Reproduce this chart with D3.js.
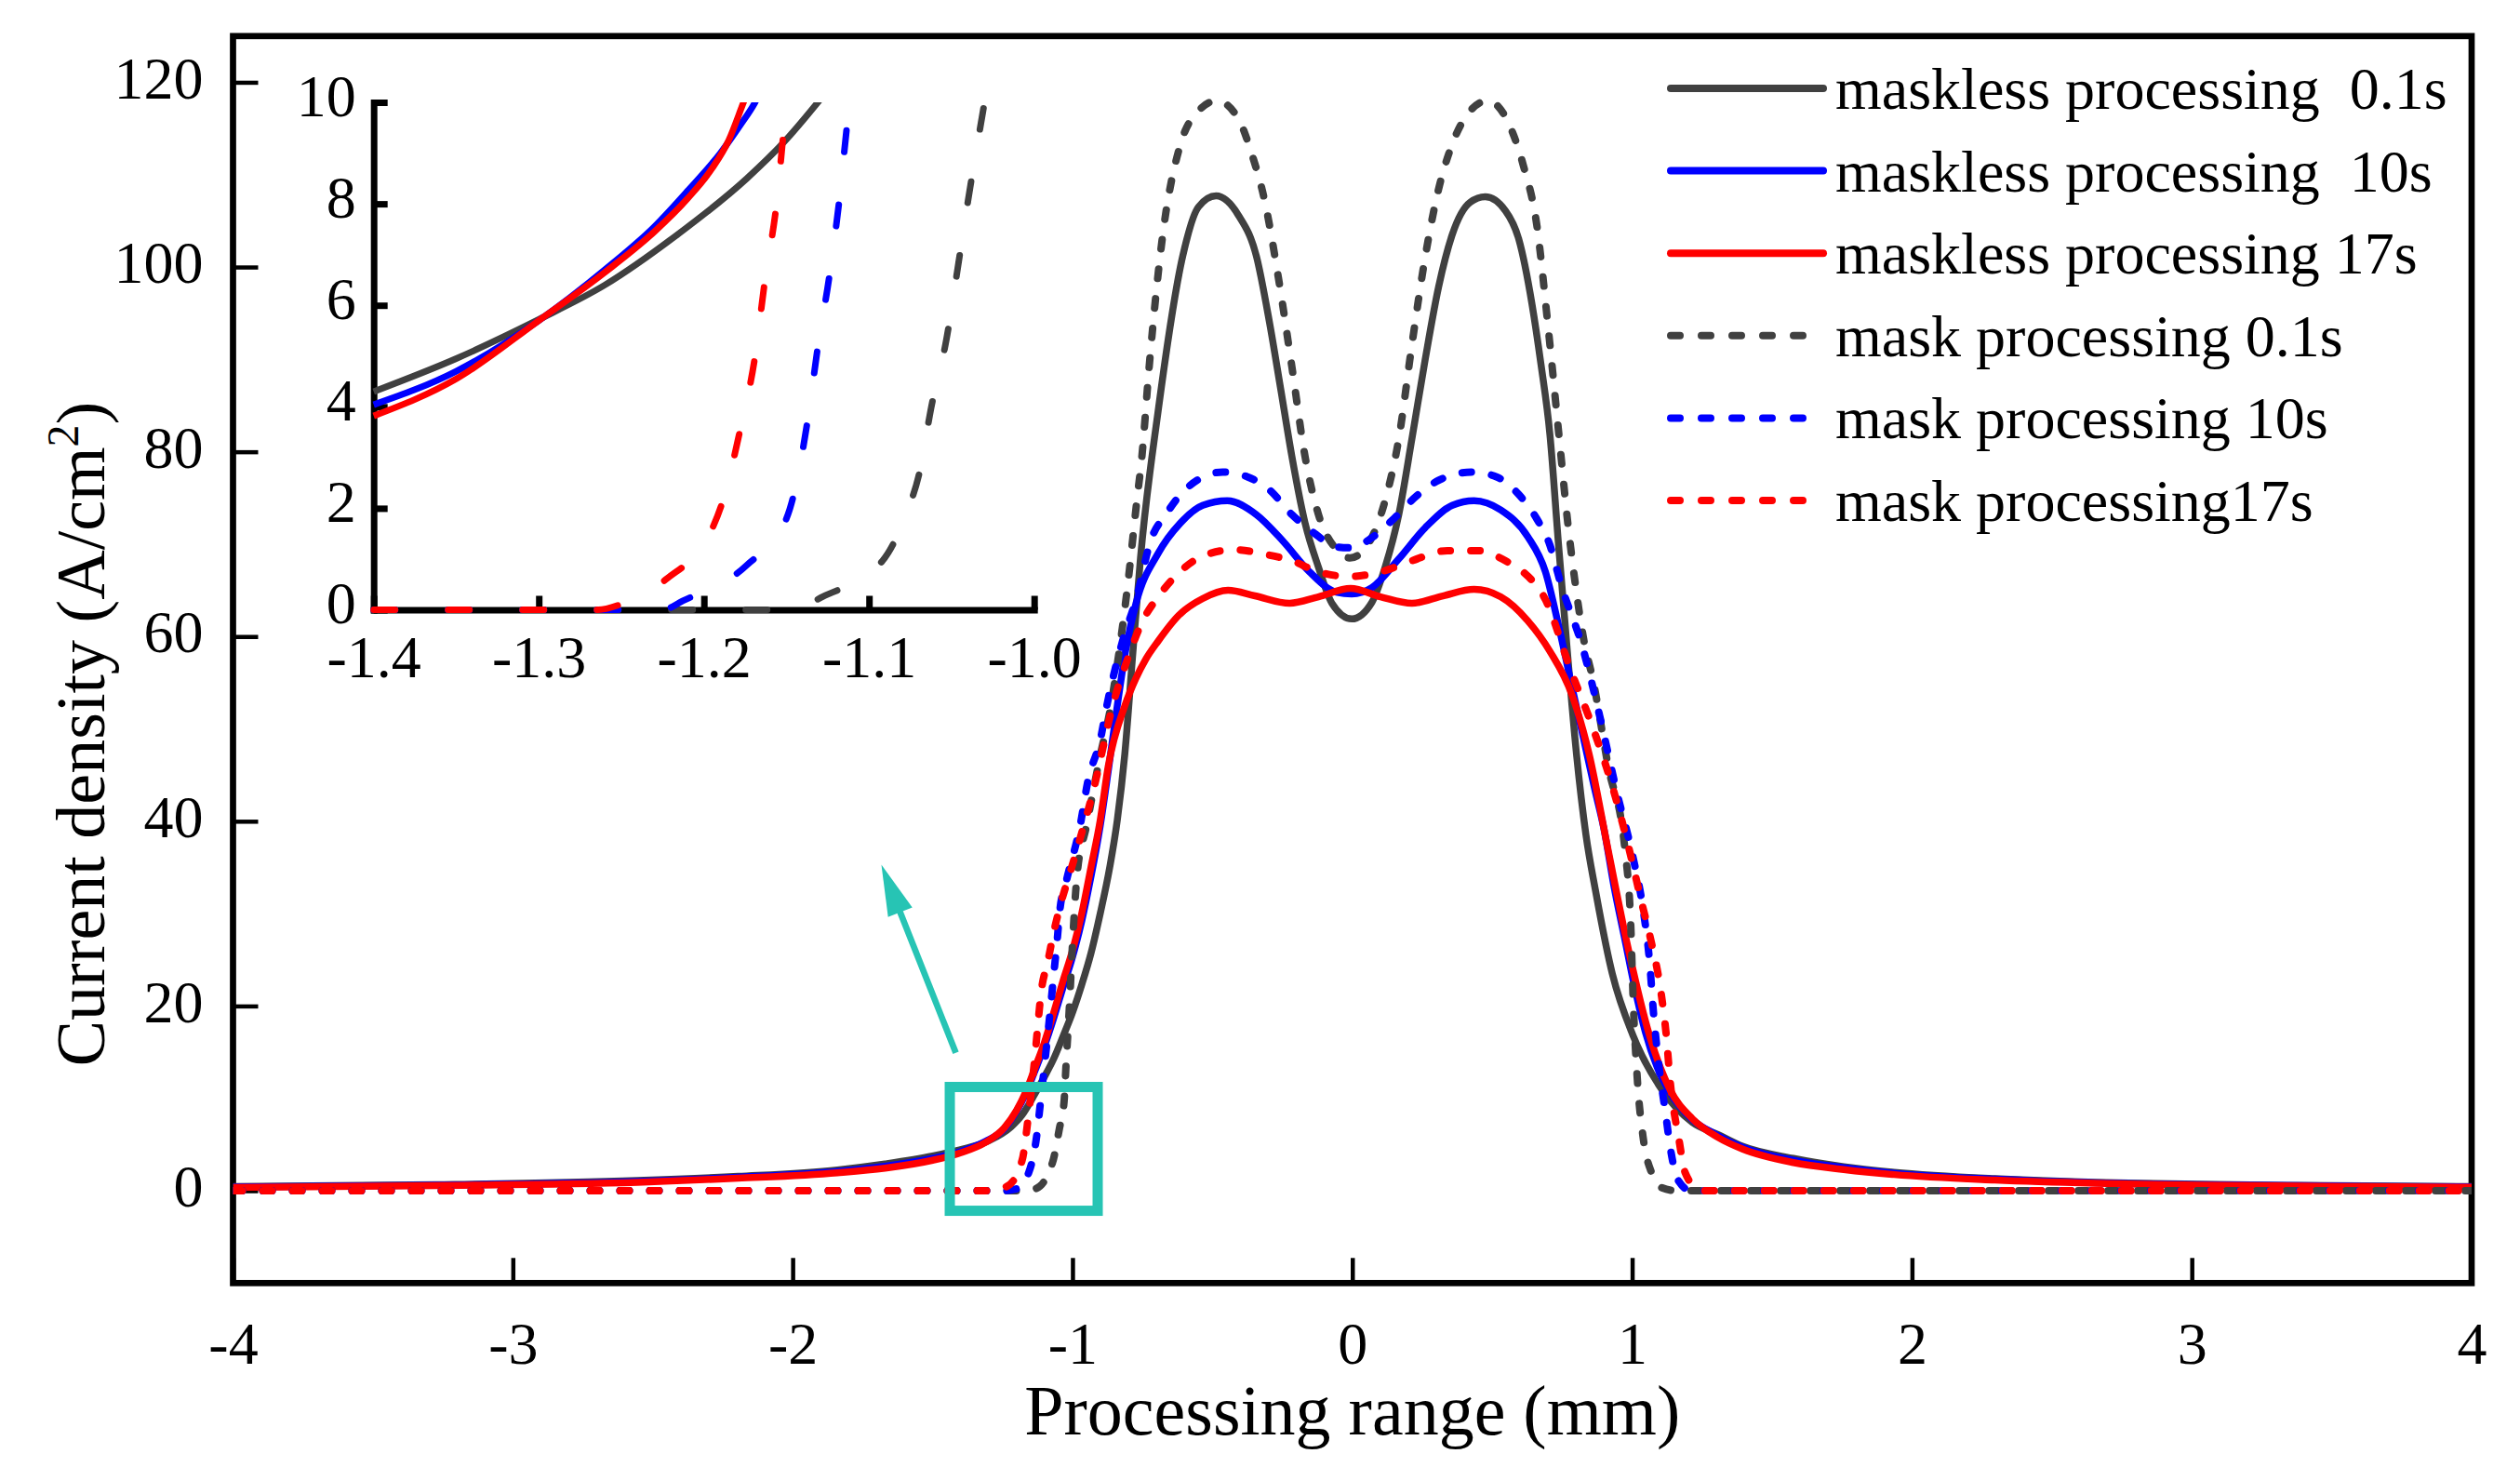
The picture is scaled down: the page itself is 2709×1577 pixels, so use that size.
<!DOCTYPE html>
<html>
<head>
<meta charset="utf-8">
<script src="https://cdn.jsdelivr.net/npm/d3@7"></script>
<style>
  body { margin: 0; background: #fff; }
  svg text { font-family: 'Liberation Serif', 'Times New Roman', serif; fill: #000; }
</style>
</head>
<body>
<svg id="chart"></svg>
<script>
// values: [processing range (mm), current density (A/cm2)]
const masklessShort = [[-4,0.45],[-3.275,0.65],[-2.555,1.1],[-2.195,1.55],[-1.84,2.25],[-1.67,2.9],[-1.5,3.75],[-1.4,4.45],[-1.3,5.4],[-1.22,6.9],[-1.18,8.2],[-1.134,10.5],[-1.101,12.3],[-1.067,14.3],[-1.034,16.7],[-1.0,19.3],[-0.967,22.3],[-0.934,25.7],[-0.901,30.0],[-0.867,35.0],[-0.840,40.1],[-0.813,47.3],[-0.785,58],[-0.757,68.5],[-0.694,84.4],[-0.606,101.2],[-0.550,106.5],[-0.487,107.7],[-0.407,105.6],[-0.343,101.2],[-0.296,94.0],[-0.256,86.8],[-0.216,79.5],[-0.169,72.3],[-0.121,67.5],[-0.073,63.6],[-0.002,61.9],[0.070,63.7],[0.117,67.5],[0.166,73.2],[0.213,81.4],[0.261,90.1],[0.308,97.8],[0.357,103.5],[0.421,107.0],[0.475,107.6],[0.547,106.1],[0.595,103.0],[0.642,96.0],[0.674,89.5],[0.706,81.9],[0.737,69.9],[0.770,57.8],[0.801,47.3],[0.835,38.5],[0.869,32.5],[0.929,23.5],[1.003,16.8],[1.107,10.9],[1.215,7.4],[1.305,6.1],[1.395,4.8],[1.576,3.5],[1.756,2.6],[1.936,2.0],[2.296,1.3],[2.657,0.9],[3.019,0.7],[3.377,0.58],[3.98,0.45],[4,0.45]]
const masklessMid = [[-4,0.4],[-3.275,0.6],[-2.555,1.0],[-2.195,1.45],[-1.84,2.1],[-1.67,2.65],[-1.5,3.5],[-1.4,4.25],[-1.31,5.35],[-1.244,6.7],[-1.2,8.6],[-1.167,10.5],[-1.134,13.0],[-1.101,15.6],[-1.067,18.7],[-1.034,22.0],[-1.0,25.3],[-0.967,29.2],[-0.934,34.0],[-0.901,39.5],[-0.872,45.5],[-0.84,52.5],[-0.81,58.5],[-0.773,63.6],[-0.694,69.0],[-0.614,72.3],[-0.535,74.2],[-0.447,74.7],[-0.343,73.2],[-0.247,70.3],[-0.153,67.0],[-0.057,64.8],[-0.002,64.6],[0.070,65.3],[0.166,68.4],[0.261,71.8],[0.357,74.2],[0.435,74.7],[0.530,73.7],[0.627,70.8],[0.690,67.0],[0.737,61.2],[0.786,54.4],[0.826,49.0],[0.866,43.5],[0.899,39.2],[0.936,32.8],[0.974,27.2],[1.009,22.0],[1.047,17.2],[1.089,13.4],[1.136,10.6],[1.215,7.7],[1.305,6.0],[1.395,4.7],[1.576,3.3],[1.756,2.5],[1.936,1.9],[2.296,1.25],[2.657,0.85],[3.019,0.65],[3.377,0.55],[3.98,0.42],[4,0.42]]
const masklessLong = [[-4,0.35],[-3.275,0.55],[-2.555,0.9],[-2.195,1.35],[-1.84,1.95],[-1.67,2.45],[-1.5,3.3],[-1.4,4.1],[-1.31,5.25],[-1.244,6.8],[-1.2,8.7],[-1.167,10.7],[-1.134,13.3],[-1.101,16.0],[-1.067,19.3],[-1.034,22.7],[-1.0,26.0],[-0.967,30.0],[-0.934,35.0],[-0.901,40.1],[-0.872,46.0],[-0.813,52.5],[-0.773,55.5],[-0.739,57.5],[-0.694,59.5],[-0.620,62.3],[-0.535,64.1],[-0.444,65.0],[-0.348,64.4],[-0.224,63.6],[-0.121,64.3],[-0.006,65.2],[0.101,64.3],[0.213,63.6],[0.324,64.4],[0.435,65.1],[0.530,64.3],[0.627,61.7],[0.706,58.4],[0.786,53.6],[0.846,47.3],[0.914,36.9],[0.989,25.8],[1.062,16.8],[1.136,10.9],[1.215,7.8],[1.305,5.8],[1.395,4.5],[1.576,3.05],[1.756,2.3],[1.936,1.75],[2.296,1.15],[2.657,0.8],[3.019,0.6],[3.377,0.5],[3.98,0.38],[4,0.38]]
const maskShort = [[-4,0],[-1.2,0],[-1.134,0.2],[-1.072,3.0],[-1.047,6.7],[-1.030,9.7],[-1.023,13.7],[-1.011,20.0],[-1.0,26.7],[-0.984,34.1],[-0.95,39.5],[-0.905,46.5],[-0.860,53.0],[-0.836,57.8],[-0.805,65.0],[-0.770,74.7],[-0.752,79.5],[-0.726,89.2],[-0.677,103.6],[-0.614,113.3],[-0.550,116.9],[-0.484,118.0],[-0.408,116.1],[-0.360,112.3],[-0.312,107.0],[-0.264,98.8],[-0.216,89.2],[-0.169,79.5],[-0.121,73.2],[-0.056,69.4],[-0.008,68.5],[0.054,69.9],[0.117,74.7],[0.166,81.4],[0.213,91.6],[0.261,101.2],[0.308,108.4],[0.357,113.3],[0.421,116.9],[0.484,118.0],[0.564,115.2],[0.612,110.9],[0.659,104.6],[0.698,94.0],[0.738,81.9],[0.770,72.3],[0.80,65],[0.825,60],[0.862,55],[0.914,46],[0.974,37],[0.996,28],[1.003,21.2],[1.018,12.3],[1.040,5.6],[1.070,1.9],[1.10,0.4],[1.16,0],[4,0]]
const maskMid = [[-4,0],[-1.25,0],[-1.200,0.2],[-1.156,2.0],[-1.129,5.7],[-1.114,9.7],[-1.101,13.3],[-1.089,16.7],[-1.078,20.0],[-1.067,23.4],[-1.056,26.7],[-1.045,30.4],[-1.023,33.4],[-0.971,39.8],[-0.946,44.2],[-0.900,48.9],[-0.876,52.7],[-0.821,59.5],[-0.773,64.0],[-0.718,70.6],[-0.669,73.1],[-0.590,76.1],[-0.463,77.8],[-0.376,77.3],[-0.297,75.9],[-0.216,73.2],[-0.137,71.2],[-0.057,69.7],[-0.002,69.6],[0.070,70.7],[0.150,72.8],[0.229,75.2],[0.308,76.9],[0.427,77.8],[0.514,77.3],[0.594,75.4],[0.658,72.8],[0.706,69.9],[0.744,65.8],[0.825,58.6],[0.884,51.4],[0.944,43.3],[1.003,36.1],[1.040,30.3],[1.062,24.9],[1.077,19.0],[1.092,14.5],[1.122,7.8],[1.136,4.7],[1.167,1.0],[1.211,0],[4,0]]
const maskLong = [[-4,0],[-1.30,0],[-1.233,0.5],[-1.180,3.3],[-1.158,8.0],[-1.134,14.6],[-1.123,18.2],[-1.112,21.5],[-1.089,24.7],[-1.067,28.0],[-1.039,31.4],[-1.006,34.7],[-0.973,38.1],[-0.911,45.2],[-0.893,47.7],[-0.860,52.1],[-0.805,57.4],[-0.749,61.7],[-0.694,64.3],[-0.630,66.6],[-0.535,68.7],[-0.423,69.4],[-0.312,68.9],[-0.216,68.2],[-0.121,67.0],[-0.010,66.5],[0.101,67.0],[0.213,68.2],[0.340,69.3],[0.451,69.3],[0.547,68.2],[0.610,67.0],[0.690,64.0],[0.781,56.3],[0.855,50.5],[0.929,43.8],[0.989,37.0],[1.034,31.2],[1.070,26.7],[1.100,22.1],[1.122,16.8],[1.136,11.8],[1.167,5.6],[1.189,2.0],[1.240,0.1],[1.27,0],[4,0]]

// the zoomed-in panel
const insetMasklessShort = [[-1.4,4.3],[-1.35,4.95],[-1.3,5.72],[-1.26,6.4],[-1.217,7.37],[-1.174,8.5],[-1.152,9.2],[-1.131,10.0],[-1.12,10.45]]
const insetMasklessMid = [[-1.4,4.04],[-1.35,4.7],[-1.3,5.7],[-1.26,6.7],[-1.23,7.55],[-1.21,8.25],[-1.19,9.0],[-1.178,9.55],[-1.169,10.0],[-1.163,10.4]]
const insetMasklessLong = [[-1.4,3.82],[-1.35,4.55],[-1.3,5.7],[-1.26,6.65],[-1.23,7.45],[-1.21,8.1],[-1.195,8.7],[-1.185,9.25],[-1.176,10.0],[-1.17,10.5]]
const insetMaskShort = [[-1.4,0],[-1.146,0],[-1.128,0.26],[-1.092,0.96],[-1.077,1.93],[-1.070,2.63],[-1.062,4.04],[-1.053,5.35],[-1.047,6.58],[-1.040,8.07],[-1.031,9.82],[-1.029,10.2]]
const insetMaskMid = [[-1.4,0],[-1.225,0],[-1.2125,0.18],[-1.174,0.88],[-1.150,1.8],[-1.137,3.77],[-1.131,5.18],[-1.124,6.58],[-1.118,8.07],[-1.1125,9.74],[-1.11,10.2]]
const insetMaskLong = [[-1.4,0],[-1.264,0],[-1.251,0.1],[-1.223,0.6],[-1.195,1.6],[-1.189,2.1],[-1.178,3.55],[-1.169,5.0],[-1.163,6.5],[-1.156,8.0],[-1.151,9.65],[-1.149,10.2]]

const legendLabels = ['maskless processing  0.1s', 'maskless processing  10s', 'maskless processing 17s',
    'mask processing 0.1s', 'mask processing 10s', 'mask processing17s']
const xTicks = [-4, -3, -2, -1, 0, 1, 2, 3, 4]
const yTicks = [0, 20, 40, 60, 80, 100, 120]
const insetXTicks = [-1.4, -1.3, -1.2, -1.1, -1.0]
const insetYTicks = [0, 2, 4, 6, 8, 10]
// teal marker box and arrow, in data units
const zoomBox = [[-1.4385, 11.23], [-0.910, -2.17]]
const zoomArrow = [[-1.417, 14.93], [-1.683, 35.3]]

const gray = '#404040', blue = '#0000ff', red = '#ff0000', teal = '#27c4b4'
const serif = "'Liberation Serif', 'Times New Roman', serif"

const w = 2709
const h = 1577
const svg = d3.select('#chart').attr('width', w).attr('height', h)

// main plot area
const pLeft = 250.5, pRight = 2657, pTop = 38.8, pBottom = 1379.3
const xScale = d3.scaleLinear().domain([-4, 4]).range([pLeft, pRight])
const yScale = d3.scaleLinear().domain([-10, 125]).range([pBottom, pTop])

// inset area
const xInset = d3.scaleLinear().domain([-1.4, -1.0]).range([401.7, 1111.7])
const yInset = d3.scaleLinear().domain([0, 10]).range([655.5, 110])

const series = [
    { main: masklessShort, inset: insetMasklessShort, color: gray, dashed: false },
    { main: masklessMid, inset: insetMasklessMid, color: blue, dashed: false },
    { main: masklessLong, inset: insetMasklessLong, color: red, dashed: false },
    { main: maskShort, inset: insetMaskShort, color: gray, dashed: true },
    { main: maskMid, inset: insetMaskMid, color: blue, dashed: true },
    { main: maskLong, inset: insetMaskLong, color: red, dashed: true }
]

const defs = svg.append('defs')
defs.append('clipPath').attr('id', 'plotClip')
    .append('rect')
    .attr('x', pLeft).attr('y', pTop)
    .attr('width', pRight - pLeft).attr('height', pBottom - pTop)
defs.append('clipPath').attr('id', 'insetClip')
    .append('rect')
    .attr('x', xInset(-1.4) - 6).attr('y', yInset(10))
    .attr('width', xInset(-1.0) - xInset(-1.4) + 10)
    .attr('height', yInset(0) - yInset(10) + 7)

// axes, ticks point inward
const xAxis = d3.axisBottom(xScale).tickValues(xTicks)
    .tickSizeInner(-27).tickSizeOuter(0).tickPadding(41)
    .tickFormat(d => String(d))
const yAxis = d3.axisLeft(yScale).tickValues(yTicks)
    .tickSizeInner(-27).tickSizeOuter(0).tickPadding(32)
    .tickFormat(d => String(d))

const gx = svg.append('g').attr('transform', `translate(0, ${pBottom})`).call(xAxis)
const gy = svg.append('g').attr('transform', `translate(${pLeft}, 0)`).call(yAxis)
for (let g of [gx, gy]) {
    g.select('.domain').remove()
    g.attr('font-size', 64).attr('font-family', serif)
    g.selectAll('.tick text').style('font-family', serif).attr('fill', '#000')
    g.selectAll('.tick line').attr('stroke', '#000').attr('stroke-width', 4.5)
}
gy.selectAll('.tick text').attr('dy', '0.26em')

svg.append('rect')
    .attr('x', pLeft).attr('y', pTop)
    .attr('width', pRight - pLeft).attr('height', pBottom - pTop)
    .attr('fill', 'none').attr('stroke', '#000').attr('stroke-width', 6.7)

// curves
const line = d3.line()
    .x(d => xScale(d[0]))
    .y(d => yScale(d[1]))
    .curve(d3.curveMonotoneX)

svg.append('g').attr('clip-path', 'url(#plotClip)')
    .selectAll('path')
    .data(series)
    .enter()
    .append('path')
    .attr('d', d => line(d.main))
    .attr('fill', 'none')
    .attr('stroke', d => d.color)
    .attr('stroke-width', d => d.dashed ? 8 : 7.5)
    .attr('stroke-dasharray', d => d.dashed ? '10,22' : null)
    .attr('stroke-linecap', d => d.dashed ? 'round' : 'butt')
    .attr('stroke-linejoin', 'round')

// teal box + arrow pointing at the inset
svg.append('rect')
    .attr('x', xScale(zoomBox[0][0]))
    .attr('y', yScale(zoomBox[0][1]))
    .attr('width', xScale(zoomBox[1][0]) - xScale(zoomBox[0][0]))
    .attr('height', yScale(zoomBox[1][1]) - yScale(zoomBox[0][1]))
    .attr('fill', 'none').attr('stroke', teal).attr('stroke-width', 11)

let p0 = [xScale(zoomArrow[0][0]), yScale(zoomArrow[0][1])]
let p1 = [xScale(zoomArrow[1][0]), yScale(zoomArrow[1][1])]
let len = Math.hypot(p1[0] - p0[0], p1[1] - p0[1])
let u = [(p1[0] - p0[0]) / len, (p1[1] - p0[1]) / len]
let base = [p1[0] - u[0] * 55, p1[1] - u[1] * 55]
let n = [-u[1], u[0]]
svg.append('line')
    .attr('x1', p0[0]).attr('y1', p0[1])
    .attr('x2', base[0] + u[0] * 4).attr('y2', base[1] + u[1] * 4)
    .attr('stroke', teal).attr('stroke-width', 6.7)
svg.append('path')
    .attr('d', `M${p1[0]},${p1[1]}L${base[0] + n[0] * 14},${base[1] + n[1] * 14}L${base[0] - n[0] * 14},${base[1] - n[1] * 14}Z`)
    .attr('fill', teal)

// inset axes (left + bottom only)
const xAxisInset = d3.axisBottom(xInset).tickValues(insetXTicks)
    .tickSizeInner(-15).tickSizeOuter(0).tickPadding(27)
    .tickFormat(d => d.toFixed(1))
const yAxisInset = d3.axisLeft(yInset).tickValues(insetYTicks)
    .tickSizeInner(-15).tickSizeOuter(0).tickPadding(19)
    .tickFormat(d => String(d))

const gxi = svg.append('g').attr('transform', `translate(0, ${yInset(0)})`).call(xAxisInset)
const gyi = svg.append('g').attr('transform', `translate(${xInset(-1.4)}, 0)`).call(yAxisInset)
for (let g of [gxi, gyi]) {
    g.attr('font-size', 64).attr('font-family', serif)
    g.selectAll('.tick text').style('font-family', serif).attr('fill', '#000')
    g.select('.domain').attr('stroke', '#000').attr('stroke-width', 7).attr('stroke-linecap', 'square')
    g.selectAll('.tick line').attr('stroke', '#000').attr('stroke-width', 7)
}
gyi.selectAll('.tick text').attr('dy', '0.22em')

const lineInset = d3.line()
    .x(d => xInset(d[0]))
    .y(d => yInset(d[1]))
    .curve(d3.curveMonotoneX)

svg.append('g').attr('clip-path', 'url(#insetClip)')
    .selectAll('path')
    .data(series)
    .enter()
    .append('path')
    .attr('d', d => lineInset(d.inset))
    .attr('fill', 'none')
    .attr('stroke', d => d.color)
    .attr('stroke-width', 7)
    .attr('stroke-dasharray', d => d.dashed ? '23,57' : null)
    .attr('stroke-linecap', d => d.dashed ? 'round' : 'butt')
    .attr('stroke-linejoin', 'round')

// legend
const legend = svg.append('g')
series.forEach((s, i) => {
    let ly = 95 + i * 88.6
    legend.append('line')
        .attr('x1', 1796).attr('x2', 1960)
        .attr('y1', ly).attr('y2', ly)
        .attr('stroke', s.color).attr('stroke-width', 8)
        .attr('stroke-linecap', 'round')
        .attr('stroke-dasharray', s.dashed ? '10,23' : null)
    legend.append('text')
        .attr('x', 1973).attr('y', ly + 22)
        .attr('font-size', 64)
        .style('font-family', serif)
        .style('white-space', 'pre')
        .text(legendLabels[i])
})

// axis titles
svg.append('text')
    .attr('x', (pLeft + pRight) / 2).attr('y', 1542)
    .attr('text-anchor', 'middle')
    .attr('font-size', 76)
    .style('font-family', serif)
    .text('Processing range (mm)')

const yTitle = svg.append('text')
    .attr('transform', 'translate(112, 789) rotate(-90)')
    .attr('text-anchor', 'middle')
    .attr('font-size', 74)
    .style('font-family', serif)
yTitle.append('tspan').text('Current density (A/cm')
yTitle.append('tspan').attr('dy', -28).attr('font-size', 48).text('2')
yTitle.append('tspan').attr('dy', 28).text(')')
</script>
</body>
</html>
